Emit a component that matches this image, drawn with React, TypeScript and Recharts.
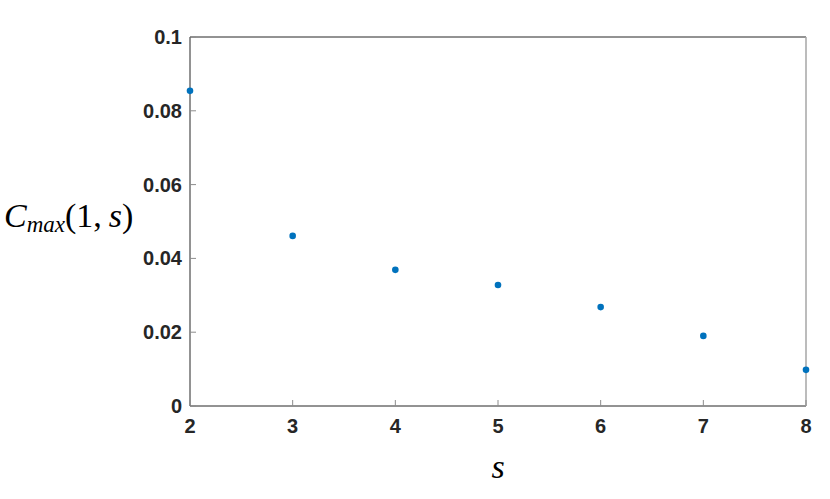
import React from "react";
import { ScatterChart, Scatter, XAxis, YAxis, Label } from "recharts";

// values
const sValues = [2, 3, 4, 5, 6, 7, 8];
const cMaxValues = [0.0854, 0.0461, 0.0369, 0.0328, 0.0268, 0.019, 0.0098];
const xTicks = [2, 3, 4, 5, 6, 7, 8];
const yTicks = [0, 0.02, 0.04, 0.06, 0.08, 0.1];

const data = sValues.map((s, i) => ({ s, c: cMaxValues[i] }));

const AXIS = "#262626";
const TICKLINE = "#8c8c8c";
const FONT = "'Liberation Sans', Arial, sans-serif";
const TICK_LEN = 6;
const MARGIN = 10;

// matlab style: tick marks point into the plot box
const BottomTick = (props: any) => {
  const { x, y, payload } = props;
  const axisY = y - MARGIN;
  return (
    <g>
      <line x1={x} x2={x} y1={axisY} y2={axisY - TICK_LEN} stroke={TICKLINE} />
      <text
        x={x}
        y={axisY + 27}
        textAnchor="middle"
        fontFamily={FONT}
        fontWeight={700}
        fontSize={20}
        fill={AXIS}
      >
        {payload.value}
      </text>
    </g>
  );
};

const LeftTick = (props: any) => {
  const { x, y, payload } = props;
  const axisX = x + MARGIN;
  return (
    <g>
      <line x1={axisX} x2={axisX + TICK_LEN} y1={y} y2={y} stroke={TICKLINE} />
      <text
        x={axisX - 8}
        y={y + 7}
        textAnchor="end"
        fontFamily={FONT}
        fontWeight={700}
        fontSize={20}
        fill={AXIS}
      >
        {String(payload.value)}
      </text>
    </g>
  );
};

const TopTick = (props: any) => {
  const { x, y } = props;
  return <line x1={x} x2={x} y1={y} y2={y + TICK_LEN} stroke={TICKLINE} />;
};

const RightTick = (props: any) => {
  const { x, y } = props;
  return <line x1={x} x2={x - TICK_LEN} y1={y} y2={y} stroke={TICKLINE} />;
};

const Dot = (props: any) => (
  <circle cx={props.cx} cy={props.cy} r={3.3} fill="#0072BD" />
);

const YLabel = (props: any) => {
  const vb = props.viewBox || {};
  return (
    <text
      x={4}
      y={vb.y + vb.height / 2 + 5}
      fontFamily="'Liberation Serif', 'DejaVu Serif', serif"
      fontSize={34}
      fill="#000"
    >
      <tspan fontStyle="italic">C</tspan>
      <tspan fontStyle="italic" fontSize={23} dy={5}>
        max
      </tspan>
      <tspan dy={-5}>(1,&#8201;</tspan>
      <tspan fontStyle="italic">s</tspan>
      <tspan>)</tspan>
    </text>
  );
};

const XLabel = (props: any) => {
  const vb = props.viewBox || {};
  return (
    <text
      x={vb.x + vb.width / 2}
      y={478}
      textAnchor="middle"
      fontFamily="'Liberation Serif', 'DejaVu Serif', serif"
      fontStyle="italic"
      fontSize={34}
      fill="#000"
    >
      s
    </text>
  );
};

export default function App() {
  return (
    <div style={{ position: "absolute", left: 0, top: 0, background: "#fff" }}>
      <ScatterChart
        width={830}
        height={499}
        margin={{ top: 36, right: 23, bottom: 63, left: 130 }}
      >
        <XAxis
          xAxisId="b"
          type="number"
          dataKey="s"
          domain={[2, 8]}
          ticks={xTicks}
          height={30}
          axisLine={{ stroke: AXIS, strokeWidth: 1 }}
          tickLine={false}
          tickSize={0}
          tickMargin={MARGIN}
          tick={<BottomTick />}
        >
          <Label content={<XLabel />} />
        </XAxis>
        <XAxis
          xAxisId="t"
          orientation="top"
          type="number"
          dataKey="s"
          domain={[2, 8]}
          ticks={xTicks}
          height={1}
          axisLine={{ stroke: AXIS, strokeWidth: 1 }}
          tickLine={false}
          tickSize={0}
          tickMargin={0}
          tick={<TopTick />}
        />
        <YAxis
          yAxisId="l"
          type="number"
          dataKey="c"
          domain={[0, 0.1]}
          ticks={yTicks}
          width={60}
          axisLine={{ stroke: AXIS, strokeWidth: 1 }}
          tickLine={false}
          tickSize={0}
          tickMargin={MARGIN}
          tick={<LeftTick />}
        >
          <Label content={<YLabel />} />
        </YAxis>
        <YAxis
          yAxisId="r"
          orientation="right"
          type="number"
          dataKey="c"
          domain={[0, 0.1]}
          ticks={yTicks}
          width={1}
          axisLine={{ stroke: "#a6a6a6", strokeWidth: 1.5 }}
          tickLine={false}
          tickSize={0}
          tickMargin={0}
          tick={<RightTick />}
        />
        <Scatter
          xAxisId="b"
          yAxisId="l"
          data={data}
          shape={<Dot />}
          isAnimationActive={false}
        />
      </ScatterChart>
    </div>
  );
}
